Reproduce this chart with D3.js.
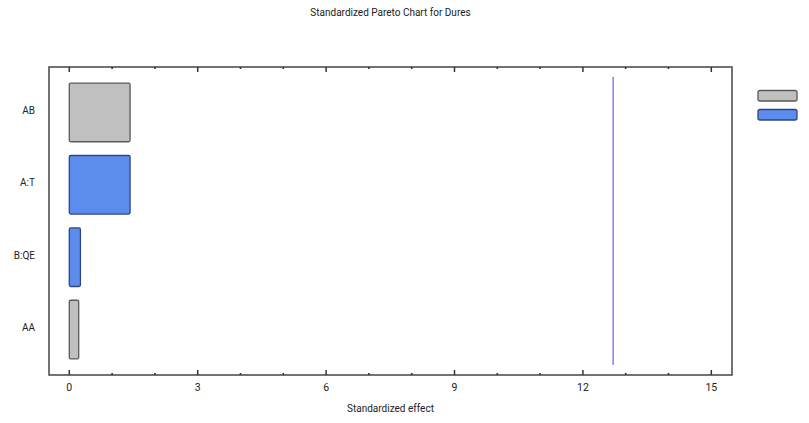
<!DOCTYPE html>
<html>
<head>
<meta charset="utf-8">
<script src="https://cdn.jsdelivr.net/npm/d3@7"></script>
<style>
  html, body { margin: 0; padding: 0; background: #fff; }
  svg { display: block; font-family: Roboto, "Liberation Sans", sans-serif; }
</style>
</head>
<body>
<svg id="chart" width="809" height="423"></svg>
<script>
// Effects in Pareto order (largest on top)
const terms = ["AB", "A:T", "B:QE", "AA"];
const effects = [1.42, 1.42, 0.26, 0.22];
const signs = ["+", "-", "-", "+"];
const criticalValue = 12.706;
const xTicks = [0, 3, 6, 9, 12, 15];
const xMinorTicks = [1, 2, 4, 5, 7, 8, 10, 11, 13, 14];

const svg = d3.select("#chart");
const plot = { left: 49, right: 732, top: 67, bottom: 375 };

const x = d3.scaleLinear().domain([0, 15]).range([69.3, 711.3]);
const y = d3.scaleBand().domain(terms).range([plot.top, plot.bottom])
  .paddingInner(0.19).paddingOuter(0.2227);

const fills = { "+": "#c0c0c0", "-": "#5b8cee" };
const strokes = { "+": "#5a5a5a", "-": "#2e4680" };

// Title
svg.append("text")
  .attr("x", (plot.left + plot.right) / 2).attr("y", 16)
  .attr("text-anchor", "middle")
  .attr("font-size", 10).attr("fill", "#222")
  .text("Standardized Pareto Chart for Dures");

// Bars
svg.append("g").selectAll("rect")
  .data(terms)
  .join("rect")
  .attr("x", x(0))
  .attr("y", d => y(d))
  .attr("width", (d, i) => x(effects[i]) - x(0))
  .attr("height", y.bandwidth())
  .attr("rx", 1.5)
  .attr("fill", (d, i) => fills[signs[i]])
  .attr("stroke", (d, i) => strokes[signs[i]])
  .attr("stroke-width", 1.3);

// Critical value line
svg.append("line")
  .attr("x1", x(criticalValue)).attr("x2", x(criticalValue))
  .attr("y1", 77).attr("y2", 365)
  .attr("stroke", "#6f5ce6").attr("stroke-width", 1.2);

// Frame
svg.append("rect")
  .attr("x", plot.left).attr("y", plot.top)
  .attr("width", plot.right - plot.left).attr("height", plot.bottom - plot.top)
  .attr("fill", "none").attr("stroke", "#444").attr("stroke-width", 1.5);

// Major and minor ticks on top and bottom, pointing inward
const tickG = svg.append("g").attr("stroke", "#333");
xTicks.forEach(t => {
  tickG.append("line").attr("x1", x(t)).attr("x2", x(t))
    .attr("y1", plot.bottom).attr("y2", plot.bottom - 5).attr("stroke-width", 1.5);
  tickG.append("line").attr("x1", x(t)).attr("x2", x(t))
    .attr("y1", plot.top).attr("y2", plot.top + 5).attr("stroke-width", 1.5);
});
xMinorTicks.forEach(t => {
  tickG.append("line").attr("x1", x(t)).attr("x2", x(t))
    .attr("y1", plot.bottom).attr("y2", plot.bottom - 2).attr("stroke-width", 1.6);
  tickG.append("line").attr("x1", x(t)).attr("x2", x(t))
    .attr("y1", plot.top).attr("y2", plot.top + 2).attr("stroke-width", 1.6);
});

// Tick labels
svg.append("g").selectAll("text")
  .data(xTicks)
  .join("text")
  .attr("x", d => x(d)).attr("y", 391)
  .attr("text-anchor", "middle")
  .attr("font-size", 10.5).attr("fill", "#222")
  .text(d => d);

// Axis title
svg.append("text")
  .attr("x", (plot.left + plot.right) / 2).attr("y", 412)
  .attr("text-anchor", "middle")
  .attr("font-size", 10).attr("fill", "#222")
  .text("Standardized effect");

// Term labels
svg.append("g").selectAll("text")
  .data(terms)
  .join("text")
  .attr("x", 35)
  .attr("y", d => y(d) + y.bandwidth() / 2 + 1.5)
  .attr("text-anchor", "end")
  .attr("font-size", 10).attr("fill", "#222")
  .text(d => d);

// Legend swatches
const legendKeys = ["+", "-"];
svg.append("g").selectAll("rect")
  .data(legendKeys)
  .join("rect")
  .attr("x", 758).attr("y", (d, i) => 90.5 + i * 19)
  .attr("width", 39).attr("height", 10.5)
  .attr("rx", 2)
  .attr("fill", d => fills[d])
  .attr("stroke", d => strokes[d])
  .attr("stroke-width", 1.3);
</script>
</body>
</html>
